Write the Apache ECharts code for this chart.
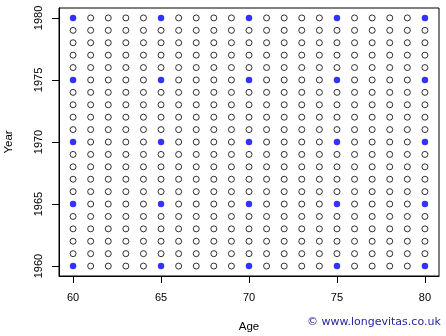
<!DOCTYPE html>
<html><head><meta charset="utf-8">
<script src="https://cdn.jsdelivr.net/npm/echarts@6/dist/echarts.min.js"></script>
<style>html,body{margin:0;padding:0;background:#fff}#c{width:446px;height:336px}</style>
</head><body><div id="c"></div>
<script>
const ages = [60,61,62,63,64,65,66,67,68,69,70,71,72,73,74,75,76,77,78,79,80];
const years = [1960,1961,1962,1963,1964,1965,1966,1967,1968,1969,1970,1971,1972,1973,1974,1975,1976,1977,1978,1979,1980];
const highlightAges = [60,65,70,75,80];
const highlightYears = [1960,1965,1970,1975,1980];
const xTicks = [60,65,70,75,80];
const yTicks = [1960,1965,1970,1975,1980];

const openPts = [], filledPts = [];
for (const a of ages) for (const y of years) {
  if (highlightAges.includes(a) && highlightYears.includes(y)) filledPts.push([a,y]);
  else openPts.push([a,y]);
}
const font = 'Liberation Sans, Arial, sans-serif';
const chart = echarts.init(document.getElementById('c'));
chart.setOption({
  animation:false,
  grid:{left:59,top:8,width:380,height:268,show:true,borderColor:'#000',borderWidth:1,backgroundColor:'transparent',
        containLabel:false,outerBoundsMode:'none'},
  xAxis:{type:'value',min:59.2,max:80.8,
    name:'Age',nameLocation:'middle',nameGap:45,nameTextStyle:{color:'#000',fontSize:11.5,fontFamily:font},
    axisLine:{show:true,lineStyle:{color:'#000'}},splitLine:{show:false},
    axisTick:{show:true,length:7,lineStyle:{color:'#000',width:1},customValues:xTicks},
    axisLabel:{color:'#000',fontSize:11,fontFamily:font,margin:16,customValues:xTicks,formatter:v=>String(v)}},
  yAxis:{type:'value',min:1959.2,max:1980.8,
    name:'Year',nameLocation:'middle',nameGap:44,nameTextStyle:{color:'#000',fontSize:11.5,fontFamily:font},
    axisLine:{show:true,lineStyle:{color:'#000'}},splitLine:{show:false},
    axisTick:{show:true,length:7,lineStyle:{color:'#000',width:1},customValues:yTicks},
    axisLabel:{color:'#000',fontSize:11,fontFamily:font,margin:15,rotate:90,customValues:yTicks,formatter:v=>String(v)}},
  graphic:[{type:'text',left:307,top:317,style:{text:'\u00a9 www.longevitas.co.uk',fill:'#26269a',fontSize:11,fontFamily:'DejaVu Sans, Verdana, sans-serif'}}],
  series:[
    {type:'scatter',data:openPts,symbol:'circle',symbolSize:6,silent:true,
     itemStyle:{color:'#fff',borderColor:'#000',borderWidth:1}},
    {type:'scatter',data:filledPts,symbol:'circle',symbolSize:6.5,silent:true,
     itemStyle:{color:'#0000ff',borderColor:'#0000ff',borderWidth:0}}
  ]
});
</script></body></html>
